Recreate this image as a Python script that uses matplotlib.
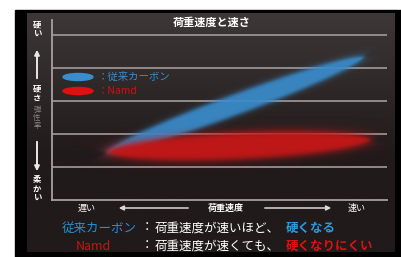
import numpy as np
import matplotlib
matplotlib.use('Agg')
import matplotlib.pyplot as plt
from matplotlib.colors import to_rgb
from matplotlib.patches import Ellipse, Rectangle

plt.rcParams['font.family'] = ['Noto Sans CJK JP', 'DejaVu Sans']

# Data: load speed (0 = slow, 1 = fast) vs stiffness level
speed_ends = [0.165, 0.93]
carbon_stiff = [1.45, 4.33]      # conventional carbon: stiffer with speed
namd_stiff = [1.45, 1.82]        # Namd: barely changes
namd_speed_ends = [0.164, 0.95]
grid_levels = [1, 2, 3, 4, 5]

title = '荷重速度と速さ'
legend_labels = ['：従来カーボン', '：Namd']
x_labels = ['遅い', '荷重速度', '速い']

BLUE = '#3a8ccc'
RED = '#c41818'

fig = plt.figure(figsize=(4.02, 2.57), dpi=100)
bg = fig.add_axes([0, 0, 1, 1])
bg.set_xlim(0, 402)
bg.set_ylim(257, 0)
bg.axis('off')

# frame and gradient panel
bg.add_patch(Rectangle((15, 10), 387, 247, color='black', zorder=0))
top = np.array(to_rgb('#3d3737'))
bot = np.array(to_rgb('#211a1a'))
t = np.clip(np.linspace(0, 1, 240) / 0.6, 0, 1)[:, None, None]
grad = top * (1 - t) + bot * t
grad = np.repeat(grad, 2, axis=1)
bg.imshow(grad, extent=[27, 395, 252, 13], aspect='auto', zorder=1)

# chart axes (pixel area x 52..387, y 20..200)
ymax = 180 / 33
ax = fig.add_axes([52 / 402, 57 / 257, 335 / 402, 180 / 257])
ax.set_xlim(0, 1)
ax.set_ylim(0, ymax)
ax.patch.set_alpha(0)
for s in ['top', 'right']:
    ax.spines[s].set_visible(False)
for s in ['left', 'bottom']:
    ax.spines[s].set_color('#a8a0a0')
    ax.spines[s].set_linewidth(1.3)
ax.set_xticks([])
ax.set_yticks([])
for g in grid_levels:
    ax.axhline(g, color='#9a9292', lw=1.3, zorder=1)

SX, SY = 335.0, 33.0
W, H = 670, 360
gx, gy = np.meshgrid(np.linspace(0, 1, W), np.linspace(0, ymax, H))


def band(xs, ys, half_w, color, soft_px, alpha_max):
    p0 = np.array([xs[0] * SX, ys[0] * SY])
    p1 = np.array([xs[1] * SX, ys[1] * SY])
    c = (p0 + p1) / 2
    d = p1 - p0
    a = np.hypot(*d) / 2
    d = d / (2 * a)
    px = gx * SX - c[0]
    py = gy * SY - c[1]
    u = px * d[0] + py * d[1]
    v = -px * d[1] + py * d[0]
    f = (u / a) ** 2 + (v / half_w) ** 2 - 1
    gmag = 2 * np.sqrt((u / a ** 2) ** 2 + (v / half_w ** 2) ** 2) + 1e-6
    dist = f / gmag
    al = alpha_max / (1 + np.exp(dist / soft_px))
    img = np.zeros((H, W, 4))
    img[..., :3] = to_rgb(color)
    img[..., 3] = al
    ax.imshow(img, extent=[0, 1, 0, ymax], origin='lower', aspect='auto',
              interpolation='bilinear', zorder=2)


band(speed_ends, carbon_stiff, 10.5, BLUE, 1.3, 0.93)
band(namd_speed_ends, namd_stiff, 14, RED, 2.0, 0.97)

# title
bg.text(212, 22, title, color='white', fontsize=8, fontweight='bold',
        ha='center', va='center', zorder=5)

# legend inside chart
bg.add_patch(Ellipse((78, 77), 30, 7, color=BLUE, zorder=5))
bg.add_patch(Ellipse((78, 91), 30, 7, color='#e01010', zorder=5))
bg.text(98, 77, legend_labels[0], color=BLUE, fontsize=7.5, ha='left', va='center', zorder=5)
bg.text(98, 91, legend_labels[1], color='#d01010', fontsize=7.5, ha='left', va='center', zorder=5)

# left vertical labels
vt = dict(ha='center', va='center', fontsize=6, fontweight='bold', color='white',
          linespacing=1.05, zorder=5)
bg.text(37, 30, '硬\nい', **vt)
bg.text(37, 94, '硬\nさ', **vt)
bg.text(37, 118, '弾\n性\n率', ha='center', va='center', fontsize=5.3, color='#8a8282',
        linespacing=1.0, zorder=5)
bg.text(37, 189, '柔\nか\nい', **vt)
arr = dict(arrowstyle='-|>', color='#e8e8e8', lw=1.4, mutation_scale=7)
bg.annotate('', xy=(37, 47), xytext=(37, 81), arrowprops=arr, zorder=5)
bg.annotate('', xy=(37, 174), xytext=(37, 139), arrowprops=arr, zorder=5)

# bottom axis labels
bt = dict(ha='center', va='center', fontsize=6.5, color='white', zorder=5)
bg.text(87, 208, x_labels[0], **bt)
bg.text(226, 208, x_labels[1], fontweight='bold', **bt)
bg.text(357, 208, x_labels[2], **bt)
harr = dict(arrowstyle='-|>', color='#d8d8d8', lw=1.1, mutation_scale=7)
bg.annotate('', xy=(116, 208), xytext=(191, 208), arrowprops=harr, zorder=5)
bg.annotate('', xy=(334, 208), xytext=(262, 208), arrowprops=harr, zorder=5)

# explanation lines
fs = 9
bg.text(62, 228, '従来カーボン', color='#2a8fd0', fontsize=fs, ha='left', va='center')
bg.text(147, 228, '：', color='white', fontsize=fs, ha='center', va='center')
bg.text(155, 228, '荷重速度が速いほど、', color='white', fontsize=fs, ha='left', va='center')
bg.text(286, 228, '硬くなる', color='#2a9ae0', fontsize=fs, fontweight='bold',
        ha='left', va='center')
bg.text(76, 246, 'Namd', color='#d01010', fontsize=fs, ha='left', va='center')
bg.text(147, 246, '：', color='white', fontsize=fs, ha='center', va='center')
bg.text(155, 246, '荷重速度が速くても、', color='white', fontsize=fs, ha='left', va='center')
bg.text(286, 246, '硬くなりにくい', color='#e01010', fontsize=fs, fontweight='bold',
        ha='left', va='center')

fig.savefig('out.png', dpi=100, facecolor='white')
